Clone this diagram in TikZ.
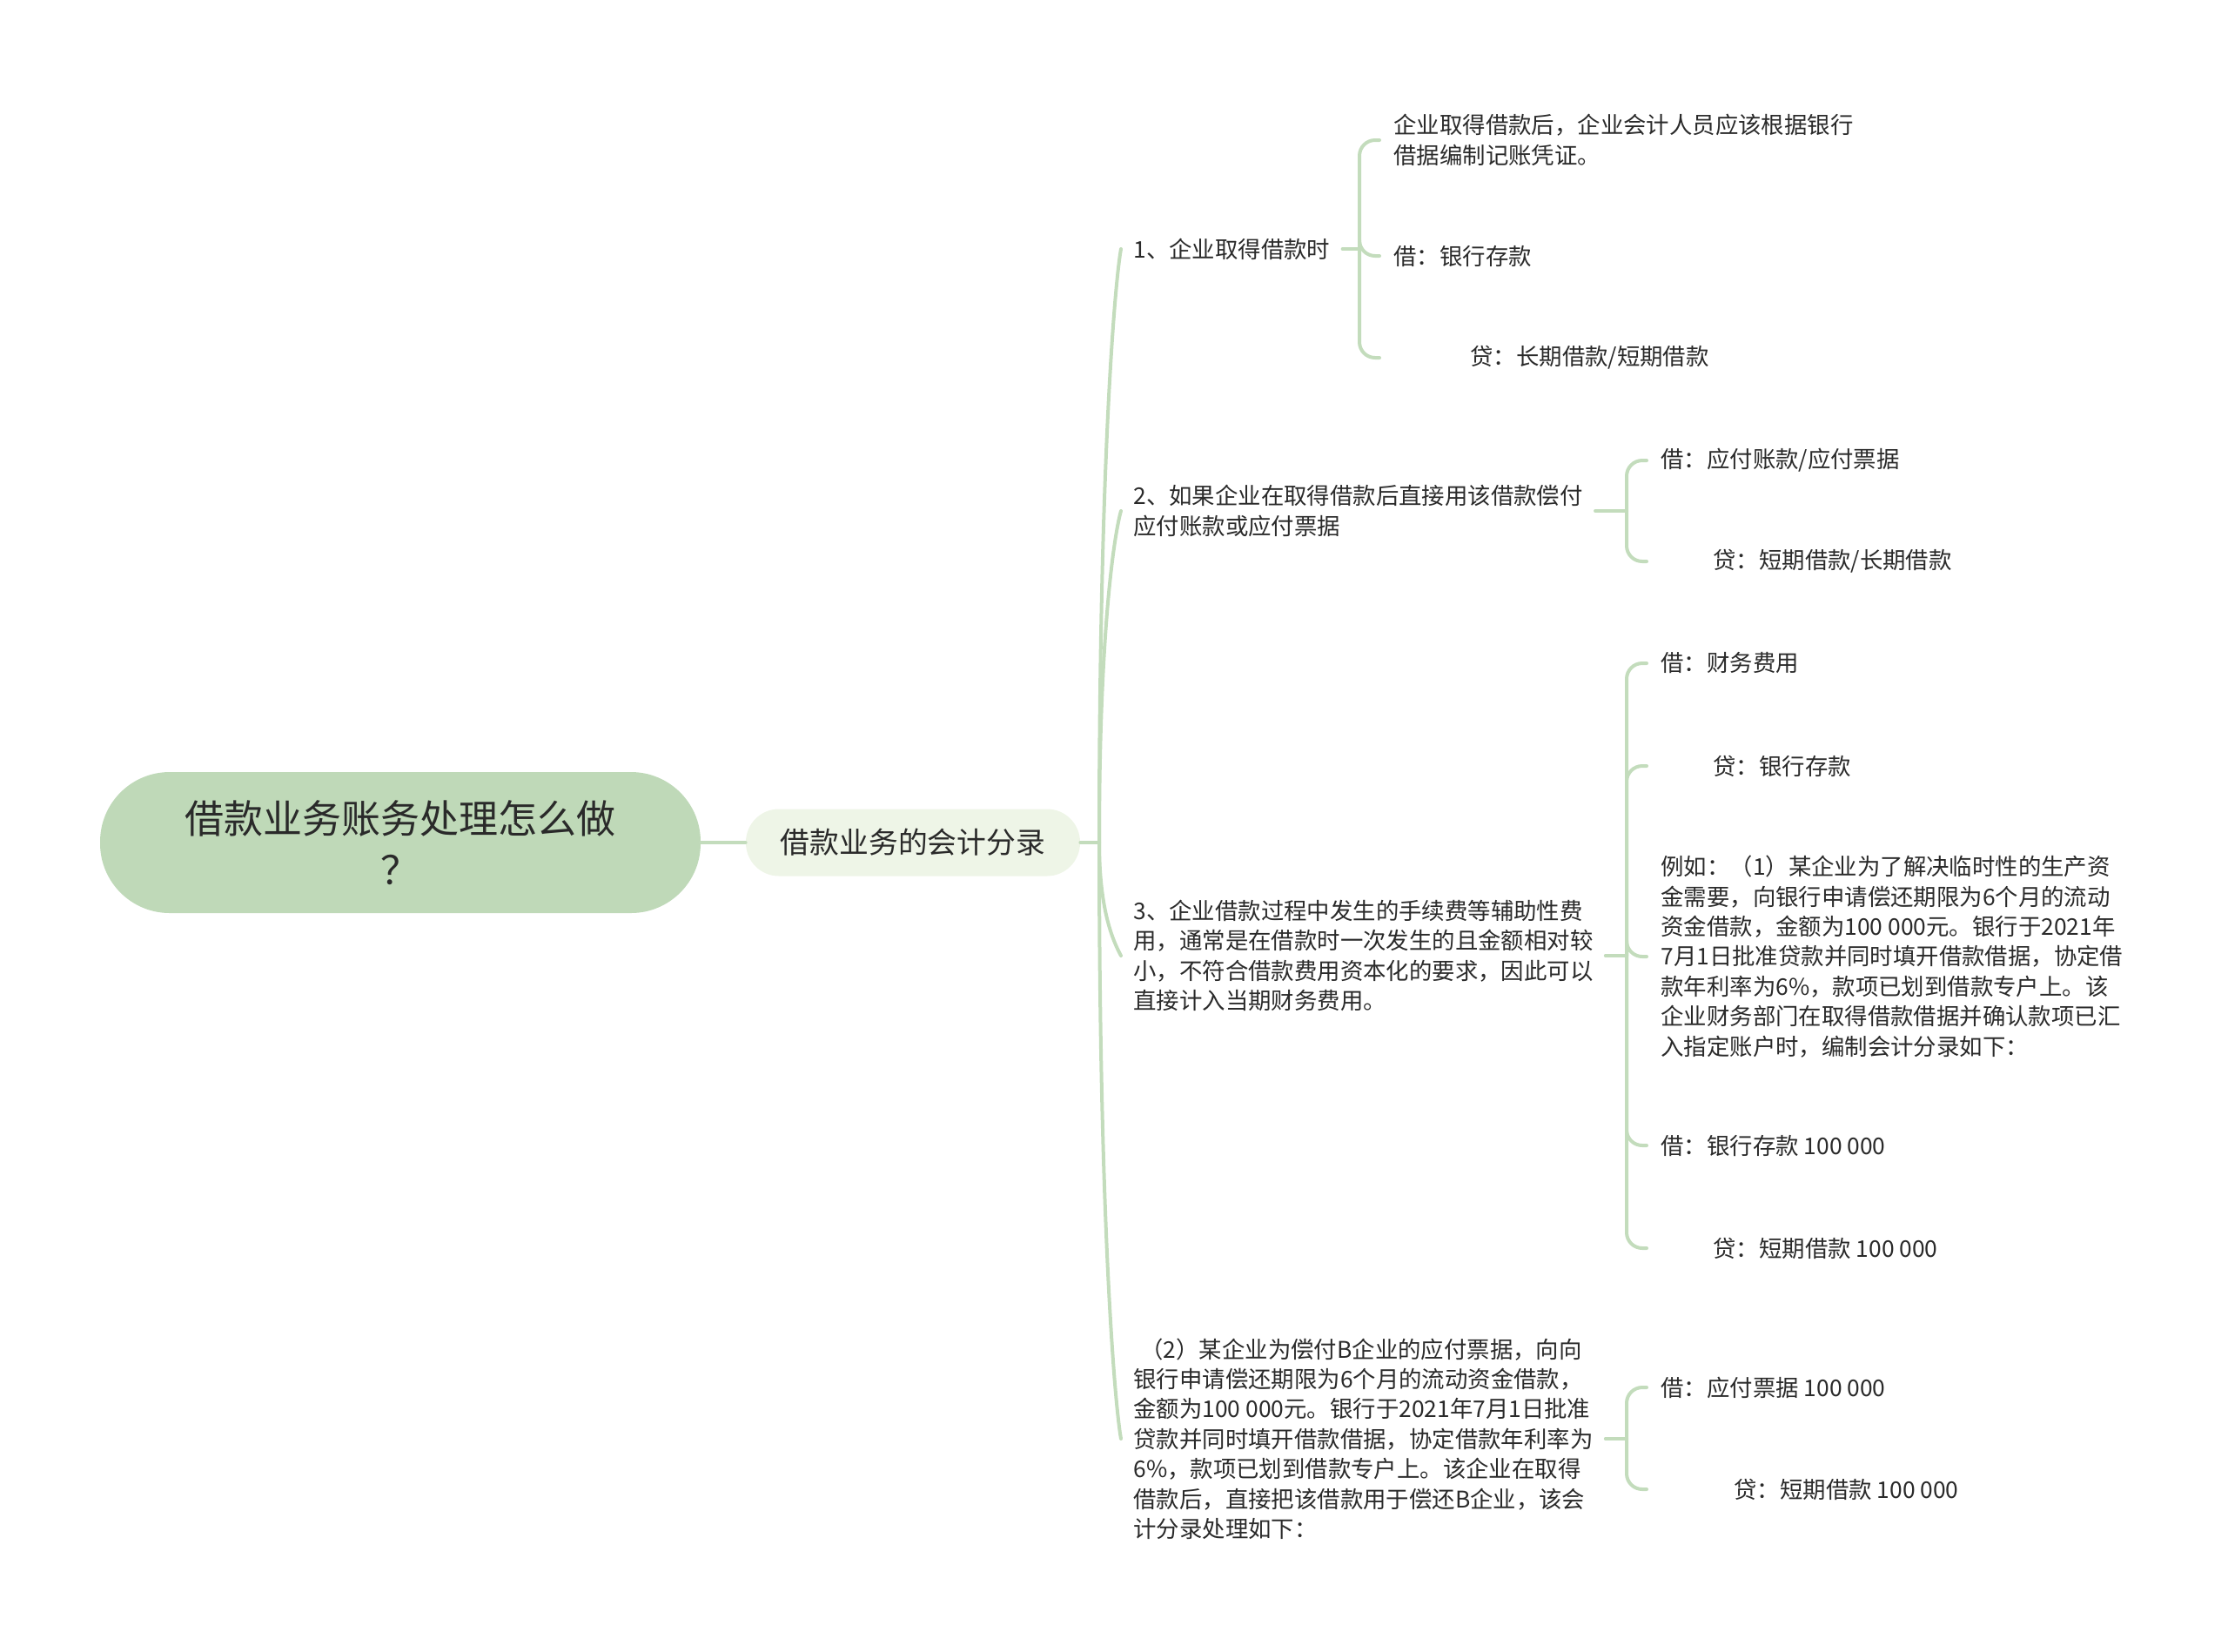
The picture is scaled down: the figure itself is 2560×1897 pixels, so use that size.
\documentclass[tikz,border=0pt]{standalone}
\usepackage{fontspec}
\setmainfont{Noto Sans CJK SC}
\usepackage{tikz}

\definecolor{linkgreen}{HTML}{C3DCBC}
\definecolor{rootgreen}{HTML}{BFD9B8}
\definecolor{subgreen}{HTML}{EEF5E7}
\definecolor{textgray}{HTML}{2A2A2A}

\begin{document}
\begin{tikzpicture}[x=0.5pt, y=-0.5pt,
    link/.style={draw=linkgreen, line width=2pt, line cap=round},
    brace/.style={link, rounded corners=9pt},
    leaf/.style={anchor=west, align=left, inner xsep=8pt, inner ysep=0pt,
        text=textgray, font=\fontsize{13.2}{17.2}\selectfont}]
        \useasboundingbox (0,0) rectangle (2560,1897);

        % Nodi
        \node[fill=rootgreen, rounded corners=40pt, minimum width=345pt, minimum height=81pt,
            align=center, text=textgray, font=\fontsize{22.5}{29.4}\selectfont]
            (root) at (460,968) {借款业务账务处理怎么做\\？};
        \node[fill=subgreen, rounded corners=19pt, minimum width=192pt, minimum height=38.5pt,
            text=textgray, font=\fontsize{16.9}{22}\selectfont]
            (sub) at (1049,968) {借款业务的会计分录};
        \coordinate (split) at (1263,968);

        \node[leaf, inner xsep=7pt] (c1) at (1288,286) {1、企业取得借款时};
        \node[leaf, inner xsep=7pt] (c2) at (1288,587) {2、如果企业在取得借款后直接用该借款偿付\\应付账款或应付票据};
        \node[leaf, inner xsep=7pt] (c3) at (1288,1098) {3、企业借款过程中发生的手续费等辅助性费\\用，通常是在借款时一次发生的且金额相对较\\小，不符合借款费用资本化的要求，因此可以\\直接计入当期财务费用。};
        \node[leaf, inner xsep=7pt] (c4) at (1288,1653) {\hspace*{4pt}（2）某企业为偿付B企业的应付票据，向向\\银行申请偿还期限为6个月的流动资金借款，\\金额为100 000元。银行于2021年7月1日批准\\贷款并同时填开借款借据，协定借款年利率为\\6\%，款项已划到借款专户上。该企业在取得\\借款后，直接把该借款用于偿还B企业，该会\\计分录处理如下：};

        \coordinate (b1) at (1562,286);
        \coordinate (b2) at (1869,587);
        \coordinate (b3) at (1869,1098);
        \coordinate (b4) at (1869,1653);

        \node[leaf] (g1a) at (1585,161) {企业取得借款后，企业会计人员应该根据银行\\借据编制记账凭证。};
        \node[leaf] (g1b) at (1585,294) {借：银行存款};
        \node[leaf] (g1c) at (1585,411) {\hspace*{44pt}贷：长期借款/短期借款};

        \node[leaf] (g2a) at (1892,529) {借：应付账款/应付票据};
        \node[leaf] (g2b) at (1892,645) {\hspace*{30pt}贷：短期借款/长期借款};

        \node[leaf] (g3a) at (1892,762) {借：财务费用};
        \node[leaf] (g3b) at (1892,880) {\hspace*{30pt}贷：银行存款};
        \node[leaf] (g3c) at (1892,1099) {例如：（1）某企业为了解决临时性的生产资\\金需要，向银行申请偿还期限为6个月的流动\\资金借款，金额为100 000元。银行于2021年\\7月1日批准贷款并同时填开借款借据，协定借\\款年利率为6\%，款项已划到借款专户上。该\\企业财务部门在取得借款借据并确认款项已汇\\入指定账户时，编制会计分录如下：};
        \node[leaf] (g3d) at (1892,1316) {借：银行存款 100 000};
        \node[leaf] (g3e) at (1892,1434) {\hspace*{30pt}贷：短期借款 100 000};

        \node[leaf] (g4a) at (1892,1594) {借：应付票据 100 000};
        \node[leaf] (g4b) at (1892,1711) {\hspace*{42pt}贷：短期借款 100 000};

        % Archi
        \draw[link] (root.east) -- (sub.west);
        \draw[link] (sub.east) -- (split);
        \draw[link] (split) .. controls +(0,-420) and +(-8,45) .. (c1.west);
        \draw[link] (split) .. controls +(0,-240) and +(-8,28) .. (c2.west);
        \draw[link] (split) .. controls +(0,80) and +(-8,-15) .. (c3.west);
        \draw[link] (split) .. controls +(0,420) and +(-8,-45) .. (c4.west);

        \draw[link] (c1.east) -- (b1);
        \draw[brace] (b1) |- (g1a.west);
        \draw[brace] (b1) |- (g1b.west);
        \draw[brace] (b1) |- (g1c.west);

        \draw[link] (c2.east) -- (b2);
        \draw[brace] (b2) |- (g2a.west);
        \draw[brace] (b2) |- (g2b.west);

        \draw[link] (c3.east) -- (b3);
        \draw[brace] (b3) |- (g3a.west);
        \draw[brace] (b3) |- (g3b.west);
        \draw[brace] (b3) |- (g3c.west);
        \draw[brace] (b3) |- (g3d.west);
        \draw[brace] (b3) |- (g3e.west);

        \draw[link] (c4.east) -- (b4);
        \draw[brace] (b4) |- (g4a.west);
        \draw[brace] (b4) |- (g4b.west);

    \end{tikzpicture}
\end{document}
